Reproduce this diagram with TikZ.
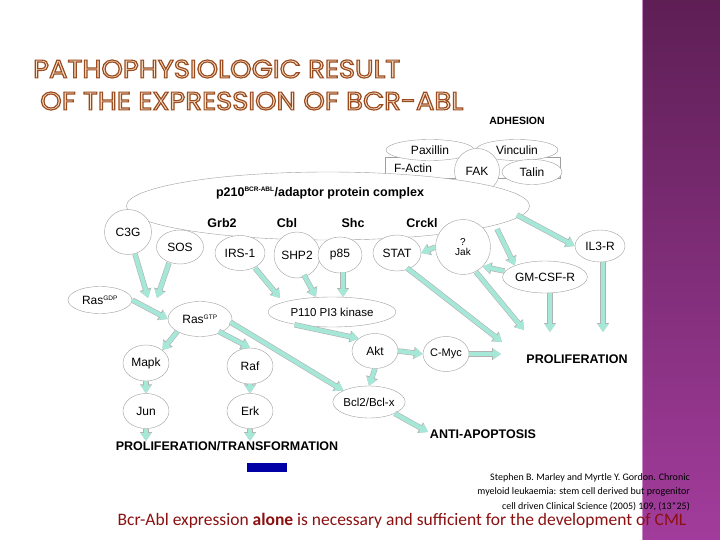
\documentclass[tikz,border=0pt]{standalone}
\usepackage{fontspec}
\setmainfont{Liberation Sans}
\newfontfamily\calib{Carlito}
\newfontfamily\titlef{Poppins}
\usetikzlibrary{shapes.geometric,arrows.meta}
\definecolor{aq}{HTML}{A6E8D8}
\definecolor{purpA}{HTML}{5E1F55}
\definecolor{purpB}{HTML}{A23C9C}
\definecolor{titlefill}{HTML}{FBE3CC}
\definecolor{darkred}{HTML}{8B1010}
\newcommand{\outltxt}[1]{\special{pdf:literal 0.6 0.3 0.12 RG 2 Tr 0.45 w}#1\special{pdf:literal 0 Tr}}
\begin{document}
\begin{tikzpicture}[x=1pt,y=-1pt,
  ov/.style={ellipse,draw=gray!75,fill=white,inner sep=0pt,font=\fontsize{12}{12}\selectfont},
  lbl/.style={font=\bfseries\fontsize{12.5}{13}\selectfont},
  fat/.style={line width=4.2pt,draw=aq,-{Triangle[width=10pt,length=8pt]},
    preaction={draw=gray!60,line width=5.4pt,-{Triangle[width=11.6pt,length=9pt]}}}]
\useasboundingbox (0,0) rectangle (720,540);
\fill[white] (0,0) rectangle (720,540);
\shade[top color=purpA,bottom color=purpB] (642,0) rectangle (720,540);
\draw[purpB!60!white,line width=0.8pt] (642,0) -- (642,540);
% title
\node[anchor=west,inner sep=0pt,text=titlefill] (t1) at (33,69) {\resizebox{367pt}{18pt}{\titlef\outltxt{PATHOPHYSIOLOGIC RESULT}}};
\node[anchor=west,inner sep=0pt,text=titlefill] (t2) at (40,101) {\resizebox{423pt}{18pt}{\titlef\outltxt{OF THE EXPRESSION OF BCR-ABL}}};
% adhesion
\node[font=\bfseries\fontsize{10.5}{10.5}\selectfont] (adh) at (517,121) {ADHESION};
\node[draw=gray!75,fill=white,minimum width=175pt,minimum height=21pt,inner sep=0pt] (box) at (473,168) {};
\node[ov,minimum width=88pt,minimum height=21pt] (pax) at (430,150) {Paxillin};
\node[ov,minimum width=82pt,minimum height=21pt] (vin) at (517,150) {Vinculin};
\node[font=\fontsize{12}{12}\selectfont] (fact) at (413,168) {F-Actin};
\node[ov,minimum width=60pt,minimum height=25pt] (tal) at (532,172) {Talin};
\node[ov,minimum width=45pt,minimum height=45pt] (fak) at (477,171) {FAK};
% complex
\node[ov,minimum width=403pt,minimum height=68pt] (cx) at (328,206) {};
\node[lbl] (cxt) at (320,193) {p210\textsuperscript{\fontsize{6.5}{6.5}\selectfont BCR-ABL}/adaptor protein complex};
\node[lbl] (grb) at (222,223) {Grb2};
\node[lbl] (cbl) at (287,223) {Cbl};
\node[lbl] (shc) at (353,223) {Shc};
\node[lbl] (crk) at (422,223) {Crckl};
% second row
\node[ov,minimum width=47pt,minimum height=45pt] (c3g) at (128,232) {C3G};
\node[ov,minimum width=47pt,minimum height=34pt] (sos) at (180,247) {SOS};
\node[ov,minimum width=50pt,minimum height=35pt] (irs) at (240,253) {IRS-1};
\node[ov,minimum width=46pt,minimum height=46pt] (shp) at (297,255) {SHP2};
\node[ov,minimum width=44pt,minimum height=36pt] (p85) at (340,255) {p85};
\node[ov,minimum width=48pt,minimum height=36pt] (stat) at (397,253) {STAT};
\node[ov,minimum width=55pt,minimum height=55pt,align=center,font=\fontsize{10}{10}\selectfont] (jak) at (463,247) {?\\Jak};
\node[ov,minimum width=80pt,minimum height=32pt,font=\fontsize{12}{12}\selectfont] (gm) at (545,277) {GM-CSF-R};
\node[ov,minimum width=50pt,minimum height=32pt] (il3) at (600,246) {IL3-R};
% ras
\node[ov,minimum width=64pt,minimum height=27pt] (rgdp) at (100,300) {Ras\textsuperscript{\fontsize{6.5}{6.5}\selectfont GDP}};
\node[ov,minimum width=64pt,minimum height=35pt] (rgtp) at (200,319) {Ras\textsuperscript{\fontsize{6.5}{6.5}\selectfont GTP}};
\node[ov,minimum width=128pt,minimum height=30pt,font=\fontsize{11.5}{11.5}\selectfont] (p110) at (332,312) {P110 PI3 kinase};
\node[ov,minimum width=46pt,minimum height=35pt] (akt) at (375,351) {Akt};
\node[ov,minimum width=46pt,minimum height=35pt,font=\fontsize{11}{11}\selectfont] (myc) at (446,354) {C-Myc};
\node[ov,minimum width=46pt,minimum height=36pt] (mapk) at (146,363) {Mapk};
\node[ov,minimum width=46pt,minimum height=36pt] (raf) at (250,366) {Raf};
\node[ov,minimum width=46pt,minimum height=35pt] (jun) at (146,411) {Jun};
\node[ov,minimum width=46pt,minimum height=35pt] (erk) at (250,411) {Erk};
\node[ov,minimum width=72pt,minimum height=32pt,font=\fontsize{11.5}{11.5}\selectfont] (bcl) at (369,402) {Bcl2/Bcl-x};
% outcome labels
\node[lbl] (prol) at (577,359) {PROLIFERATION};
\node[lbl] (anti) at (483,434) {ANTI-APOPTOSIS};
\node[lbl] (ptr) at (227,446) {PROLIFERATION/TRANSFORMATION};
% free ends
\coordinate (e1) at (148,298);
\coordinate (e2) at (157,298);
\coordinate (e3) at (280,298);
\coordinate (e4) at (316,297);
\coordinate (e5) at (343,297);
\coordinate (e6) at (502,342);
\coordinate (e7) at (524,330);
\coordinate (e8) at (550,332);
\coordinate (e9) at (603,332);
\coordinate (e10) at (501,354);
\coordinate (e11) at (146,441);
\coordinate (e12) at (250,441);
\coordinate (e13) at (428,432);
% arrows
\draw[fat] (135,254) -- (e1);
\draw[fat] (169,263) -- (e2);
\draw[fat] (255,268) -- (e3);
\draw[fat] (304,275) -- (e4);
\draw[fat] (343,272) -- (e5);
\draw[fat] (jak.west) -- (stat.east);
\draw[fat] (407,268) -- (e6);
\draw[fat] (476,272) -- (e7);
\draw[fat] (gm.south) ++(5,0) -- (e8);
\draw[fat] (il3.south) ++(3,0) -- (e9);
\draw[fat] (517,215) -- (il3.west);
\draw[fat] (497,229) -- (gm.north west);
\draw[fat] (gm.west) ++(2,-6) -- (jak.south east);
\draw[fat] (rgdp.east) -- (rgtp.west);
\draw[fat] (rgtp.south west) -- (mapk.north east);
\draw[fat] (rgtp.south east) ++(-4,0) -- (raf.north);
\draw[fat] (rgtp.east) ++(-2,3) -- (bcl.north west);
\draw[fat] (p110.south west) ++(8,2) -- (akt.north west);
\draw[fat] (akt.south) -- (bcl.north);
\draw[fat] (akt.east) -- (myc.west);
\draw[fat] (myc.east) -- (e10);
\draw[fat] (mapk.south) -- (jun.north);
\draw[fat] (raf.south) -- (erk.north);
\draw[fat] (jun.south) -- (e11);
\draw[fat] (erk.south) -- (e12);
\draw[fat] (bcl.south east) -- (e13);
% logo
\node[fill=blue!65!black,minimum width=40pt,minimum height=9pt,inner sep=0pt] (logo) at (267,467) {};
% citation
\node[anchor=east,align=right,font=\calib\fontsize{10}{14.5}\selectfont,inner sep=0pt] (cit) at (690,492) {Stephen B. Marley and Myrtle Y. Gordon. Chronic\\myeloid leukaemia: stem cell derived but progenitor\\cell driven Clinical Science (2005) 109, (13*25)};
\node[font=\calib\fontsize{17.5}{18}\selectfont,text=darkred,inner sep=0pt] (foot) at (402,521) {Bcr-Abl expression \textbf{alone} is necessary and sufficient for the development of CML};
\end{tikzpicture}
\end{document}
